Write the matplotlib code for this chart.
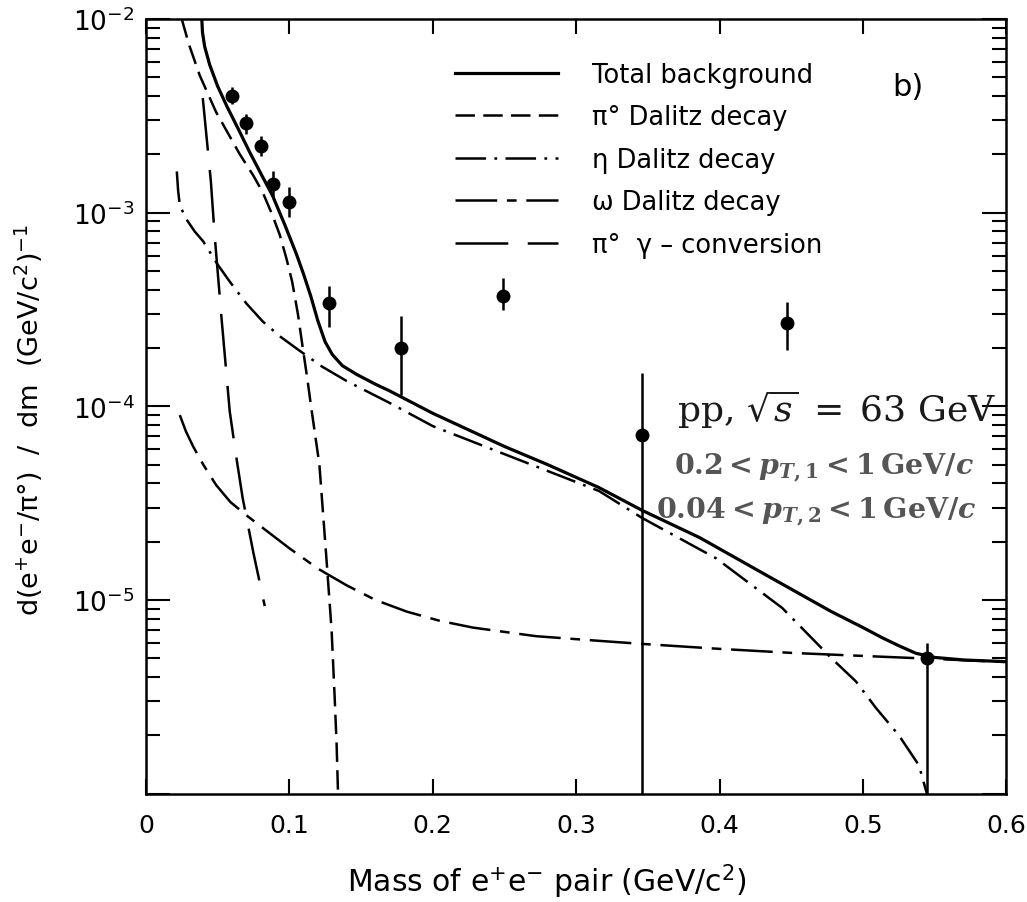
import numpy as np
import matplotlib.pyplot as plt

plt.rcParams['font.family'] = ['DejaVu Sans']
plt.rcParams['mathtext.fontset'] = 'dejavusans'
plt.rcParams['mathtext.rm'] = 'DejaVu Serif:bold'
plt.rcParams['mathtext.it'] = 'DejaVu Serif:italic:bold'
plt.rcParams['mathtext.bf'] = 'DejaVu Serif:bold'
plt.rcParams['lines.scale_dashes'] = False

# Total background (solid)
m_tot = [0.0390, 0.0395, 0.0410, 0.0445, 0.0500, 0.0564, 0.0650, 0.0724, 0.0800, 0.0884,
         0.0970, 0.1050, 0.1100, 0.1150, 0.1200, 0.1250, 0.1300, 0.1370, 0.1470, 0.1600,
         0.1700, 0.2000, 0.2500, 0.2800, 0.3160, 0.3460, 0.3860, 0.4320, 0.4780, 0.5000,
         0.5130, 0.5250, 0.5370, 0.5500, 0.5700, 0.6000]
y_tot = [1.0e-2, 8.5e-3, 7.2e-3, 5.8e-3, 4.5e-3, 3.55e-3, 2.65e-3, 2.05e-3, 1.6e-3, 1.22e-3,
         8.6e-4, 6.1e-4, 4.8e-4, 3.7e-4, 2.75e-4, 2.15e-4, 1.85e-4, 1.62e-4, 1.46e-4, 1.30e-4,
         1.20e-4, 9.2e-5, 6.2e-5, 5.0e-5, 3.8e-5, 2.9e-5, 2.1e-5, 1.35e-5, 8.7e-6, 7.2e-6,
         6.4e-6, 5.8e-6, 5.3e-6, 5.05e-6, 4.9e-6, 4.8e-6]

# pi0 Dalitz decay (dashed)
m_pi = [0.0250, 0.0300, 0.0376, 0.0490, 0.0655, 0.0750, 0.0815, 0.0880, 0.0933, 0.0980,
        0.1020, 0.1060, 0.1090, 0.1125, 0.1156, 0.1210, 0.1260, 0.1295, 0.1316, 0.1330,
        0.1340]
y_pi = [1.0e-2, 7.4e-3, 5.1e-3, 3.3e-3, 2.0e-3, 1.55e-3, 1.27e-3, 9.8e-4, 7.7e-4, 5.8e-4,
        4.4e-4, 3.0e-4, 2.1e-4, 1.4e-4, 9.5e-5, 5.0e-5, 1.6e-5, 7.0e-6, 3.2e-6, 1.8e-6,
        1.0e-6]

# eta Dalitz decay (dash-dot)
m_eta = [0.0216, 0.0225, 0.0237, 0.0280, 0.0340, 0.0400, 0.0500, 0.0585, 0.0700, 0.0815,
         0.0940, 0.1070, 0.1230, 0.1400, 0.1700, 0.2000, 0.2500, 0.3160, 0.3460, 0.3976,
         0.4436, 0.4780, 0.4950, 0.5090, 0.5250, 0.5390, 0.5445]
y_eta = [1.63e-3, 1.30e-3, 1.09e-3, 9.3e-4, 8.0e-4, 7.1e-4, 5.4e-4, 4.4e-4, 3.4e-4, 2.74e-4,
         2.28e-4, 1.94e-4, 1.6e-4, 1.35e-4, 1.04e-4, 7.9e-5, 5.66e-5, 3.65e-5, 2.65e-5, 1.64e-5,
         9.1e-6, 5.0e-6, 3.8e-6, 2.77e-6, 2.0e-6, 1.4e-6, 1.0e-6]

# omega Dalitz decay (long-short dash)
m_om = [0.0237, 0.0280, 0.0330, 0.0400, 0.0490, 0.0590, 0.0700, 0.0850, 0.1000, 0.1200,
        0.1400, 0.1600, 0.1820, 0.2050, 0.2280, 0.2720, 0.3160, 0.3460, 0.4000, 0.4500,
        0.5000, 0.5500, 0.6000]
y_om = [9.0e-5, 7.4e-5, 6.2e-5, 5.0e-5, 3.92e-5, 3.2e-5, 2.74e-5, 2.25e-5, 1.85e-5, 1.45e-5,
        1.19e-5, 1.0e-5, 8.7e-6, 7.8e-6, 7.2e-6, 6.5e-6, 6.15e-6, 5.93e-6, 5.59e-6, 5.33e-6,
        5.14e-6, 4.96e-6, 4.78e-6]

# pi0 gamma-conversion (long dashes)
m_conv = [0.0397, 0.0453, 0.0480, 0.0529, 0.0585, 0.0630, 0.0675, 0.0750, 0.0829]
y_conv = [3.9e-3, 1.46e-3, 7.6e-4, 2.78e-4, 9.4e-5, 5.5e-5, 3.36e-5, 1.75e-5, 9.3e-6]

# data points with error bars (lower end below axis where open)
m_pts = [0.060, 0.0696, 0.080, 0.089, 0.0996, 0.128, 0.178, 0.249, 0.346, 0.447, 0.5446]
y_pts = [4.0e-3, 2.9e-3, 2.2e-3, 1.41e-3, 1.14e-3, 3.4e-4, 2.0e-4, 3.7e-4, 7.1e-5, 2.7e-4, 5.0e-6]
y_lo = [3.65e-3, 2.55e-3, 1.95e-3, 1.21e-3, 9.5e-4, 2.58e-4, 1.14e-4, 3.13e-4, 1e-7, 1.95e-4, 1e-7]
y_hi = [4.47e-3, 3.24e-3, 2.47e-3, 1.63e-3, 1.36e-3, 4.2e-4, 2.91e-4, 4.57e-4, 1.48e-4, 3.47e-4, 6.0e-6]

xticks = [0, 0.1, 0.2, 0.3, 0.4, 0.5, 0.6]
xtick_labels = ['0', '0.1', '0.2', '0.3', '0.4', '0.5', '0.6']
yticks = [1e-6, 1e-5, 1e-4, 1e-3, 1e-2]
ytick_labels = ['', r'$10^{-5}$', r'$10^{-4}$', r'$10^{-3}$', r'$10^{-2}$']

legend_labels = ['Total background', 'π° Dalitz decay', 'η Dalitz decay',
                 'ω Dalitz decay', 'π°  γ – conversion']

fig = plt.figure(figsize=(10.27, 9.03), dpi=100)
ax = fig.add_axes([0.142, 0.120, 0.838, 0.858])

l_tot, = ax.plot(m_tot, y_tot, color='black', lw=2.3, ls='-')
l_pi, = ax.plot(m_pi, y_pi, color='black', lw=1.8, ls=(0, (14, 6)))
l_eta, = ax.plot(m_eta, y_eta, color='black', lw=1.8, ls=(0, (22, 6, 2, 6)))
l_om, = ax.plot(m_om, y_om, color='black', lw=1.8, ls=(0, (30, 7, 7, 7)))
l_conv, = ax.plot(m_conv, y_conv, color='black', lw=1.8, ls=(0, (38, 14)))

y_pts_a = np.array(y_pts)
yerr = [y_pts_a - np.array(y_lo), np.array(y_hi) - y_pts_a]
ax.errorbar(m_pts, y_pts, yerr=yerr, fmt='o', color='black', ms=9,
            elinewidth=1.8, capsize=0)

ax.set_yscale('log')
ax.set_xlim(0, 0.6)
ax.set_ylim(1e-6, 1e-2)
ax.set_xticks(xticks)
ax.set_xticklabels(xtick_labels)
ax.set_yticks(yticks)
ax.set_yticklabels(ytick_labels)

ax.tick_params(axis='both', which='both', direction='in', top=True, right=True, width=1.5)
ax.tick_params(axis='x', which='major', length=11, labelsize=18, pad=14)
ax.tick_params(axis='y', which='major', length=17, labelsize=19, pad=8)
ax.tick_params(axis='y', which='minor', length=10)
for s in ax.spines.values():
    s.set_linewidth(1.8)

ax.legend([l_tot, l_pi, l_eta, l_om, l_conv], legend_labels,
          loc='upper left', bbox_to_anchor=(455 / 1027, 1 - 63 / 903),
          bbox_transform=fig.transFigure, frameon=False, fontsize=18.5,
          handlelength=4.0, handletextpad=1.35, labelspacing=0.64,
          borderpad=0, borderaxespad=0)

fig.text(908 / 1027, 1 - 87 / 903, 'b)', fontsize=22, ha='center', va='center')

fig.text(837 / 1027, 1 - 410 / 903, r'pp, $\sqrt{s}\;=\;63$ GeV', family='DejaVu Serif',
         math_fontfamily='dejavuserif', fontsize=26, color='#1a1a1a', ha='center', va='center')
fig.text(824 / 1027, 1 - 468 / 903, r'$0.2 < p_{T,1} < 1\,\mathrm{GeV}/c$',
         math_fontfamily='custom', fontsize=20.5, color='#555555', ha='center', va='center')
fig.text(816 / 1027, 1 - 512 / 903, r'$0.04 < p_{T,2} < 1\,\mathrm{GeV}/c$',
         math_fontfamily='custom', fontsize=20.5, color='#555555', ha='center', va='center')

fig.text(547 / 1027, 1 - 882 / 903, r'Mass of e$^{+}$e$^{-}$ pair (GeV/c$^{2}$)',
         fontsize=21.5, ha='center', va='center')
fig.text(29 / 1027, 1 - 420 / 903,
         r'd(e$^{+}$e$^{-}$/π°)  /  dm  (GeV/c$^{2}$)$^{-1}$',
         fontsize=19.5, rotation=90, ha='center', va='center')

fig.savefig('out.png', dpi=100)
